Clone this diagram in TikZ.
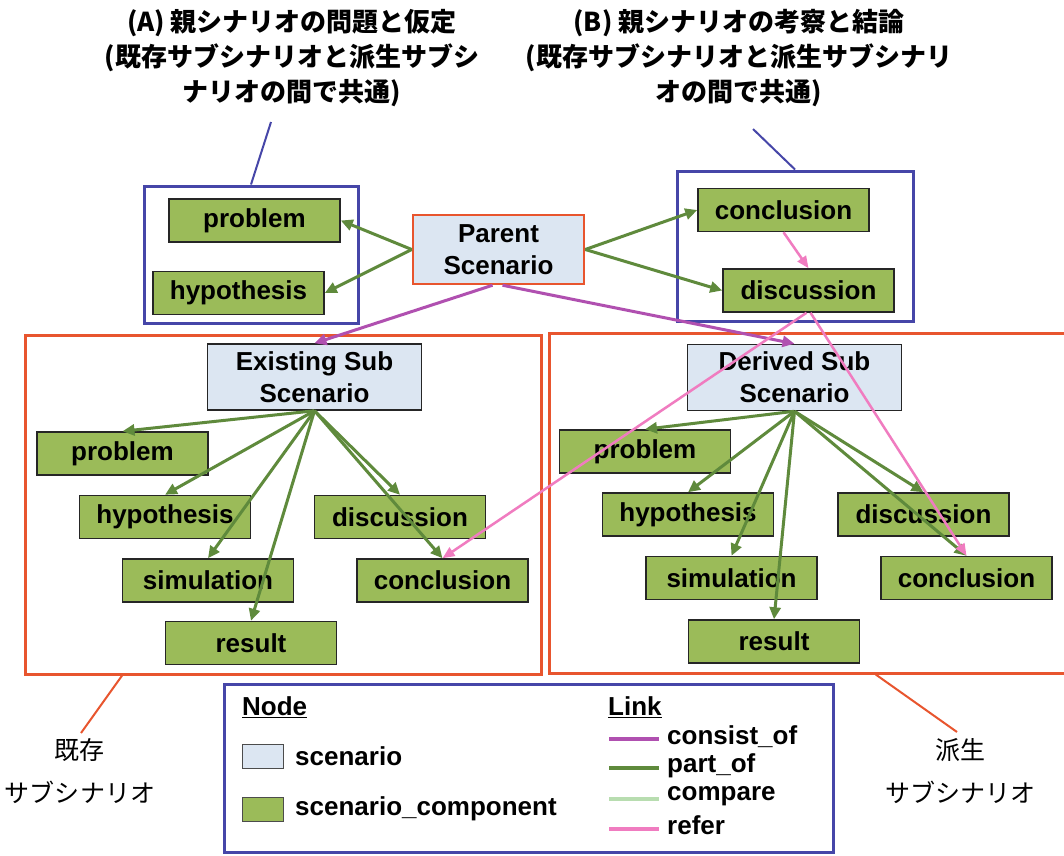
\documentclass[tikz,border=0pt]{standalone}
\usepackage{fontspec}
\setmainfont{Liberation Sans}
\newfontfamily\jpfont{Noto Sans CJK JP}
\usetikzlibrary{arrows.meta,calc}

\definecolor{compgreen}{HTML}{9BBB59}
\definecolor{scenblue}{HTML}{DCE6F2}
\definecolor{framered}{HTML}{E8552E}
\definecolor{frameblue}{HTML}{4646A8}
\definecolor{partgreen}{HTML}{5F8A3C}
\definecolor{consistpurple}{HTML}{B050B0}
\definecolor{referpink}{HTML}{F07CC0}
\definecolor{comparegreen}{HTML}{B8DDB0}

\tikzset{
  comp/.style={draw=black!85, line width=1.5pt, fill=compgreen,
    minimum width=171pt, minimum height=43pt, inner sep=0pt,
    font=\bfseries\fontsize{26}{30}\selectfont},
  scen/.style={draw=black!85, line width=1.5pt, fill=scenblue,
    minimum width=214pt, minimum height=66pt, inner sep=0pt, align=center,
    font=\bfseries\fontsize{26}{32}\selectfont},
  redframe/.style={draw=framered, line width=3pt, inner sep=0pt},
  blueframe/.style={draw=frameblue, line width=3pt, inner sep=0pt},
  partof/.style={draw=partgreen, line width=3pt,
    -{Triangle[length=12pt,width=11pt]}},
  consist/.style={draw=consistpurple, line width=3pt,
    -{Triangle[length=12pt,width=11pt]}},
  refer/.style={draw=referpink, line width=2.5pt,
    -{Triangle[length=12pt,width=10pt]}},
  jptitle/.style={align=center, inner sep=0pt,
    font=\jpfont\bfseries\fontsize{26}{35}\selectfont},
  jplabel/.style={align=center, inner sep=0pt,
    font=\jpfont\fontsize{25}{43}\selectfont},
  legtext/.style={anchor=west, inner sep=0pt,
    font=\bfseries\fontsize{26}{30}\selectfont},
  swatch/.style={draw=black!70, line width=1pt, minimum width=41pt,
    minimum height=24pt, inner sep=0pt},
  legline/.style={line width=4pt},
}

\begin{document}
\begin{tikzpicture}[x=1pt,y=-1pt]
\useasboundingbox (0,0) rectangle (1064,855);
\fill[white] (0,0) rectangle (1064,855);

% group frames
\node[blueframe, minimum width=214pt, minimum height=137pt] (boxA) at (251,254.5) {};
\node[blueframe, minimum width=236pt, minimum height=150pt] (boxB) at (795,246) {};
\node[redframe, minimum width=516pt, minimum height=339pt] (boxE) at (283,504.5) {};
\node[redframe, minimum width=518pt, minimum height=340pt] (boxD) at (808,503) {};
\node[blueframe, minimum width=609pt, minimum height=168pt] (legend) at (528.5,768) {};

% headings
\node[jptitle] (titleA) at (292,58) {(A) 親シナリオの問題と仮定\\(既存サブシナリオと派生サブシ\\ナリオの間で共通)};
\node[jptitle] (titleB) at (739,58) {(B) 親シナリオの考察と結論\\(既存サブシナリオと派生サブシナリ\\オの間で共通)};
\node[jplabel] (labE) at (80,771) {既存\\サブシナリオ};
\node[jplabel] (labD) at (960,771) {派生\\サブシナリオ};

% parent scenario and its shared components
\node[scen, draw=framered, line width=2.5pt, minimum width=171pt, minimum height=69pt] (par) at (498.5,249.5) {Parent\\Scenario};
\node[comp] (Aprob) at (254.5,220.5) {problem};
\node[comp] (Ahyp) at (238.5,293) {hypothesis};
\node[comp] (Bconc) at (783.5,210) {conclusion};
\node[comp] (Bdisc) at (808.5,290.5) {discussion};

% existing sub scenario
\node[scen] (Esc) at (314.5,377) {Existing Sub\\Scenario};
\node[comp] (Eprob) at (122.5,453.5) {problem};
\node[comp] (Ehyp) at (165,517) {hypothesis};
\node[comp] (Esim) at (208,580.5) {simulation};
\node[comp] (Eres) at (251,643) {result};
\node[comp] (Edisc) at (400,517) {discussion};
\node[comp] (Econc) at (442.5,580.5) {conclusion};

% derived sub scenario
\node[scen] (Dsc) at (794.5,377.5) {Derived Sub\\Scenario};
\node[comp] (Dprob) at (645,451.5) {problem};
\node[comp] (Dhyp) at (688,514.5) {hypothesis};
\node[comp] (Dsim) at (731.5,578) {simulation};
\node[comp] (Dres) at (774,641.5) {result};
\node[comp] (Ddisc) at (923.5,514.5) {discussion};
\node[comp] (Dconc) at (966.5,578) {conclusion};

% legend
\node[legtext] (legNode) at (242,707) {\underline{Node}};
\node[swatch, fill=scenblue] (swS) at (262.5,756) {};
\node[swatch, fill=compgreen] (swC) at (262.5,809) {};
\node[legtext] (legS) at (295,756) {scenario};
\node[legtext] (legC) at (295,809) {scenario\_component};
\node[legtext] (legLink) at (608,707) {\underline{Link}};
\coordinate (l1a) at (609,739); \coordinate (l1b) at (659,739);
\coordinate (l2a) at (609,768); \coordinate (l2b) at (659,768);
\coordinate (l3a) at (609,799); \coordinate (l3b) at (659,799);
\coordinate (l4a) at (609,829); \coordinate (l4b) at (659,829);
\draw[legline, consistpurple] (l1a) -- (l1b);
\draw[legline, partgreen] (l2a) -- (l2b);
\draw[legline, comparegreen] (l3a) -- (l3b);
\draw[legline, referpink] (l4a) -- (l4b);
\node[legtext] (legL1) at (667,737) {consist\_of};
\node[legtext] (legL2) at (667,766) {part\_of};
\node[legtext] (legL3) at (667,796) {compare};
\node[legtext] (legL4) at (667,825) {refer};

% callout lines
\coordinate (cA) at (271,122);
\coordinate (cB) at (753,129);
\coordinate (cE) at (81,733);
\coordinate (cD) at (957,732);
\draw[frameblue, line width=2pt] (cA) -- (boxA.north);
\draw[frameblue, line width=2pt] (cB) -- (boxB.north);
\draw[framered, line width=2pt] ($(boxE.south west)!0.19!(boxE.south east)$) -- (cE);
\draw[framered, line width=2pt] ($(boxD.south west)!0.63!(boxD.south east)$) -- (cD);

% part_of links
\draw[partof] (par.west) -- (Aprob.east);
\draw[partof] (par.west) -- (Ahyp.east);
\draw[partof] (par.east) -- (Bconc.west);
\draw[partof] (par.east) -- (Bdisc.west);
\foreach \n in {Eprob,Ehyp,Esim,Eres,Edisc,Econc}
  \draw[partof] (Esc.south) -- (\n.north);
\foreach \n in {Dprob,Dhyp,Dsim,Dres,Ddisc,Dconc}
  \draw[partof] (Dsc.south) -- (\n.north);

% consist_of links
\draw[consist] ([xshift=-6pt]par.south) -- (Esc.north);
\draw[consist] ([xshift=4pt]par.south) -- (Dsc.north);

% refer links
\draw[refer] (Bconc.south) -- (Bdisc.north);
\draw[refer] ([xshift=-2pt]Bdisc.south) -- (Econc.north);
\draw[refer] ([xshift=2pt]Bdisc.south) -- (Dconc.north);
\end{tikzpicture}
\end{document}
